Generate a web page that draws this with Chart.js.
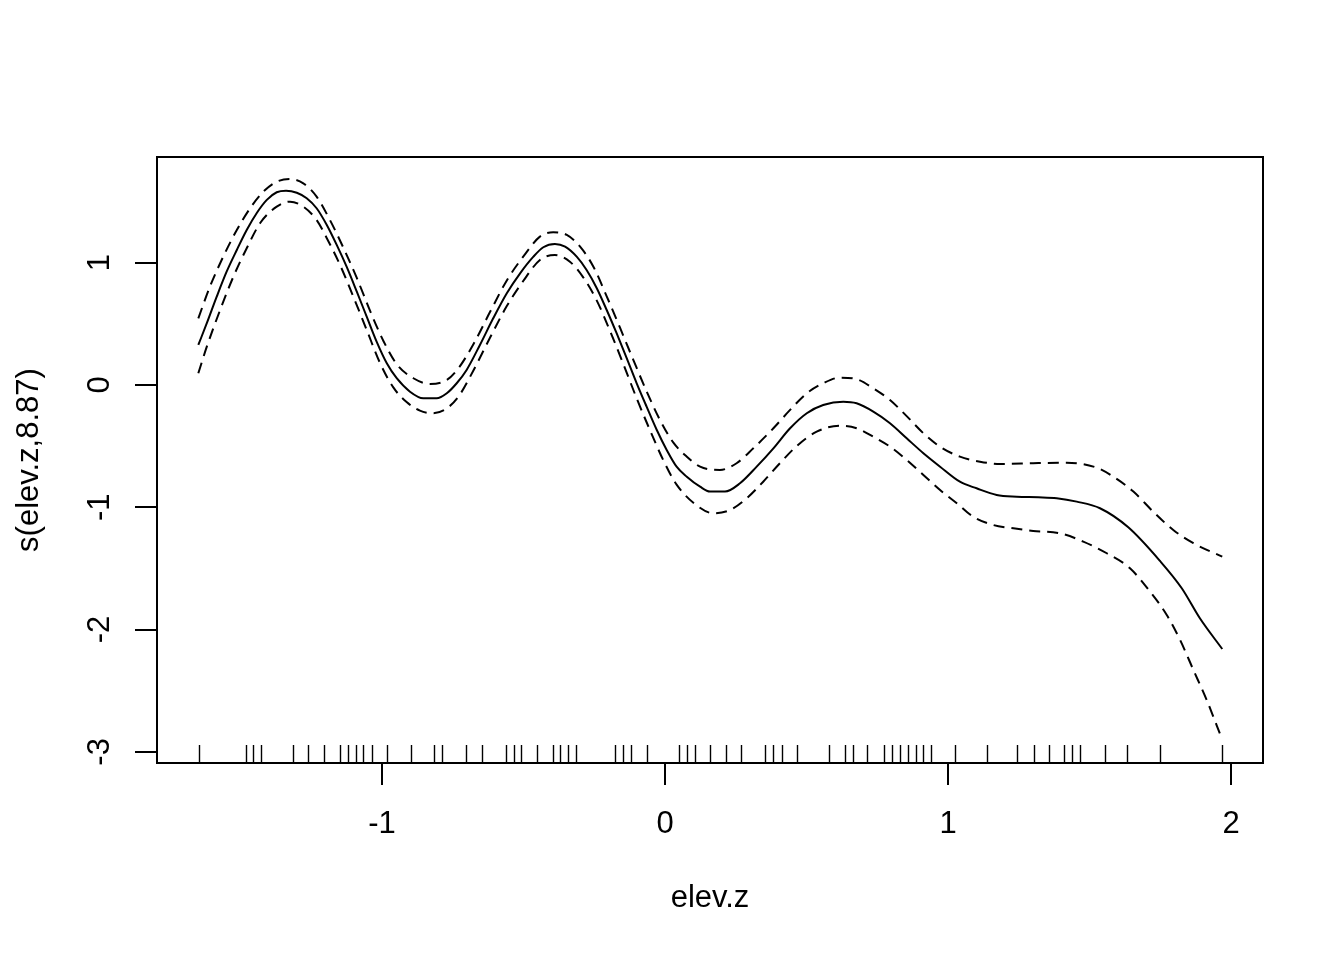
<!DOCTYPE html>
<html>
<head>
<meta charset="utf-8">
<script src="https://cdn.jsdelivr.net/npm/chart.js@4.4.1/dist/chart.umd.min.js"></script>
<style>
  html, body { margin: 0; padding: 0; background: #fff; }
  #wrap { width: 1344px; height: 960px; }
</style>
</head>
<body>
<div id="wrap"><canvas id="gamPlot" width="1344" height="960"></canvas></div>
<script>
// smooth term s(elev.z)
const fitX = [-1.649, -1.619, -1.584, -1.549, -1.513, -1.478, -1.443, -1.407, -1.372, -1.339,
    -1.301, -1.266, -1.231, -1.195, -1.160, -1.125, -1.089, -1.054, -1.019, -0.983,
    -0.948, -0.901, -0.854, -0.807, -0.771, -0.736, -0.701, -0.654, -0.607, -0.559,
    -0.512, -0.465, -0.430, -0.389, -0.353, -0.312, -0.277, -0.241, -0.206, -0.171,
    -0.135, -0.100, -0.065, -0.029, 0.006, 0.041, 0.077, 0.124, 0.159, 0.212,
    0.265, 0.324, 0.383, 0.442, 0.501, 0.559, 0.630, 0.677, 0.736, 0.795,
    0.854, 0.913, 0.972, 1.042, 1.101, 1.172, 1.243, 1.319, 1.384, 1.455,
    1.537, 1.637, 1.749, 1.826, 1.890, 1.969];
const fitY = [0.327, 0.505, 0.722, 0.926, 1.104, 1.267, 1.404, 1.513, 1.576, 1.589,
    1.572, 1.527, 1.445, 1.308, 1.145, 0.967, 0.763, 0.558, 0.354, 0.177,
    0.055, -0.055, -0.109, -0.109, -0.068, 0.014, 0.123, 0.327, 0.545, 0.750,
    0.913, 1.049, 1.126, 1.153, 1.131, 1.049, 0.940, 0.791, 0.613, 0.423,
    0.218, 0.014, -0.177, -0.368, -0.531, -0.668, -0.750, -0.832, -0.872, -0.872,
    -0.804, -0.668, -0.518, -0.354, -0.231, -0.164, -0.137, -0.150, -0.218, -0.313,
    -0.436, -0.558, -0.668, -0.791, -0.845, -0.899, -0.913, -0.918, -0.926, -0.954,
    -1.008, -1.164, -1.439, -1.662, -1.908, -2.159];

// upper band (fit + 2 se)
const upperX = [-1.649, -1.608, -1.561, -1.513, -1.466, -1.419, -1.372, -1.325, -1.278, -1.231,
    -1.184, -1.137, -1.089, -1.042, -0.995, -0.948, -0.889, -0.830, -0.771, -0.730,
    -0.677, -0.618, -0.559, -0.501, -0.442, -0.395, -0.347, -0.300, -0.253, -0.206,
    -0.159, -0.112, -0.065, -0.018, 0.029, 0.077, 0.124, 0.194, 0.253, 0.312,
    0.383, 0.442, 0.501, 0.559, 0.618, 0.677, 0.736, 0.795, 0.854, 0.913,
    0.972, 1.042, 1.113, 1.184, 1.301, 1.419, 1.525, 1.584, 1.655, 1.725,
    1.796, 1.867, 1.969];
const upperY = [0.545, 0.804, 1.049, 1.267, 1.445, 1.581, 1.662, 1.684, 1.649, 1.540,
    1.349, 1.125, 0.875, 0.605, 0.360, 0.170, 0.055, 0.008, 0.041, 0.137,
    0.333, 0.598, 0.855, 1.049, 1.213, 1.249, 1.227, 1.131, 0.967, 0.725,
    0.468, 0.205, -0.052, -0.285, -0.470, -0.586, -0.668, -0.695, -0.640, -0.518,
    -0.354, -0.204, -0.068, 0.014, 0.060, 0.047, -0.027, -0.123, -0.255, -0.395,
    -0.505, -0.586, -0.627, -0.646, -0.640, -0.635, -0.676, -0.750, -0.872, -1.036,
    -1.186, -1.294, -1.404];

// lower band (fit - 2 se)
const lowerX = [-1.649, -1.619, -1.572, -1.525, -1.478, -1.431, -1.372, -1.325, -1.278, -1.231,
    -1.195, -1.148, -1.101, -1.054, -1.007, -0.960, -0.913, -0.866, -0.819, -0.771,
    -0.730, -0.677, -0.618, -0.559, -0.501, -0.442, -0.389, -0.336, -0.289, -0.241,
    -0.194, -0.147, -0.100, -0.053, -0.006, 0.041, 0.118, 0.171, 0.230, 0.289,
    0.347, 0.406, 0.465, 0.536, 0.618, 0.677, 0.736, 0.795, 0.854, 0.913,
    0.972, 1.031, 1.089, 1.160, 1.231, 1.301, 1.396, 1.478, 1.561, 1.643,
    1.714, 1.773, 1.820, 1.867, 1.914, 1.969];
const lowerY = [0.096, 0.313, 0.613, 0.886, 1.118, 1.322, 1.458, 1.499, 1.458, 1.349,
    1.200, 0.980, 0.720, 0.450, 0.180, -0.020, -0.140, -0.210, -0.231, -0.191,
    -0.096, 0.118, 0.388, 0.645, 0.850, 1.022, 1.063, 1.008, 0.880, 0.690,
    0.440, 0.170, -0.110, -0.370, -0.615, -0.815, -0.995, -1.049, -1.022, -0.926,
    -0.791, -0.640, -0.500, -0.382, -0.333, -0.354, -0.423, -0.504, -0.613, -0.736,
    -0.859, -0.967, -1.077, -1.145, -1.172, -1.194, -1.213, -1.281, -1.376, -1.499,
    -1.690, -1.881, -2.085, -2.330, -2.576, -2.900];

// observed covariate values (rug)
const rugX = [-1.647, -1.482, -1.455, -1.428, -1.316, -1.260, -1.204, -1.147, -1.119, -1.093,
    -1.066, -1.036, -0.982, -0.896, -0.815, -0.787, -0.703, -0.648, -0.562, -0.535,
    -0.508, -0.451, -0.397, -0.370, -0.342, -0.313, -0.176, -0.147, -0.119, -0.063,
    0.048, 0.077, 0.105, 0.159, 0.216, 0.270, 0.354, 0.383, 0.413, 0.467,
    0.578, 0.635, 0.663, 0.715, 0.773, 0.802, 0.829, 0.859, 0.886, 0.913,
    0.940, 1.025, 1.137, 1.245, 1.303, 1.358, 1.411, 1.439, 1.467, 1.554,
    1.634, 1.748, 1.969];

const xTicks = [-1, 0, 1, 2];
const yTicks = [-3, -2, -1, 0, 1];

const FONT = "'Liberation Sans', Arial, sans-serif";
const FONT_SIZE = 31;

function toPoints(xs, ys) {
    return xs.map((x, i) => ({ x: x, y: ys[i] }));
}

// box, rotated y labels and rug, R style
const rPlotExtras = {
    id: 'rPlotExtras',
    afterDatasetsDraw(chart) {
        const { ctx, chartArea, scales } = chart;
        ctx.save();
        ctx.strokeStyle = '#000';
        ctx.lineWidth = 1.4;
        ctx.beginPath();
        rugX.forEach(v => {
            const px = Math.round(scales.x.getPixelForValue(v)) + 0.5;
            ctx.moveTo(px, chartArea.bottom);
            ctx.lineTo(px, chartArea.bottom - 18);
        });
        ctx.stroke();

        ctx.lineWidth = 2;
        ctx.strokeRect(chartArea.left, chartArea.top, chartArea.right - chartArea.left, chartArea.bottom - chartArea.top);

        ctx.fillStyle = '#000';
        ctx.font = FONT_SIZE + 'px ' + FONT;
        ctx.textAlign = 'center';
        ctx.textBaseline = 'middle';
        yTicks.forEach(v => {
            const py = scales.y.getPixelForValue(v);
            ctx.save();
            ctx.translate(100, py);
            ctx.rotate(-Math.PI / 2);
            ctx.fillText(String(v), 0, 0);
            ctx.restore();
        });
        ctx.restore();
    }
};

const ctx = document.getElementById('gamPlot').getContext('2d');
new Chart(ctx, {
    type: 'scatter',
    data: {
        datasets: [{
            label: 'fit',
            data: toPoints(fitX, fitY),
            showLine: true,
            borderColor: '#000',
            borderWidth: 2,
            pointRadius: 0,
            cubicInterpolationMode: 'monotone'
        }, {
            label: 'upper',
            data: toPoints(upperX, upperY),
            showLine: true,
            borderColor: '#000',
            borderWidth: 2,
            borderDash: [11, 7],
            pointRadius: 0,
            cubicInterpolationMode: 'monotone'
        }, {
            label: 'lower',
            data: toPoints(lowerX, lowerY),
            showLine: true,
            borderColor: '#000',
            borderWidth: 2,
            borderDash: [11, 7],
            pointRadius: 0,
            cubicInterpolationMode: 'monotone'
        }]
    },
    options: {
        responsive: false,
        animation: false,
        layout: { padding: { top: 157, right: 81, left: 0, bottom: 0 } },
        plugins: {
            legend: { display: false },
            tooltip: { enabled: false }
        },
        scales: {
            x: {
                type: 'linear',
                min: -1.795,
                max: 2.113,
                afterBuildTicks: scale => { scale.ticks = xTicks.map(v => ({ value: v })); },
                afterFit: scale => { scale.height = 197; },
                border: { display: false },
                grid: {
                    drawOnChartArea: false,
                    drawTicks: true,
                    tickLength: 22,
                    color: '#000',
                    lineWidth: 2
                },
                ticks: {
                    color: '#000',
                    padding: 21,
                    maxRotation: 0,
                    font: { family: FONT, size: FONT_SIZE }
                },
                title: {
                    display: true,
                    text: 'elev.z',
                    color: '#000',
                    font: { family: FONT, size: FONT_SIZE },
                    padding: { top: 0, bottom: 43 }
                }
            },
            y: {
                type: 'linear',
                min: -3.091,
                max: 1.864,
                afterBuildTicks: scale => { scale.ticks = yTicks.map(v => ({ value: v })); },
                afterFit: scale => { scale.width = 157; },
                border: { display: false },
                grid: {
                    drawOnChartArea: false,
                    drawTicks: true,
                    tickLength: 22,
                    color: '#000',
                    lineWidth: 2
                },
                ticks: { display: false },
                title: {
                    display: true,
                    text: 's(elev.z,8.87)',
                    color: '#000',
                    font: { family: FONT, size: FONT_SIZE },
                    padding: { top: 11, bottom: 0 }
                }
            }
        }
    },
    plugins: [rPlotExtras]
});
</script>
</body>
</html>
